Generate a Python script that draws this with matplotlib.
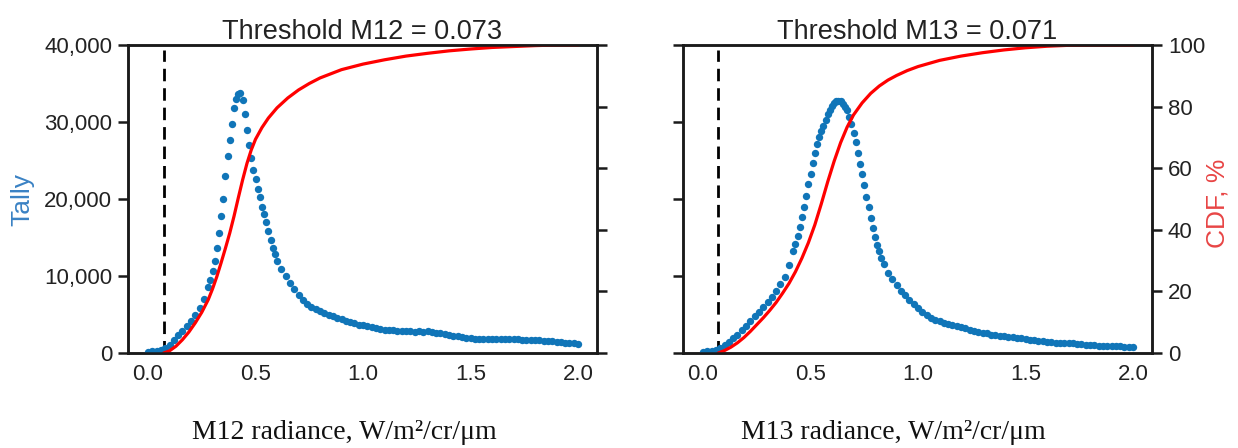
import numpy as np
import matplotlib
matplotlib.use('Agg')
import matplotlib.pyplot as plt
from matplotlib.ticker import FuncFormatter

plt.rcParams['font.family'] = ['Liberation Sans', 'DejaVu Sans']

# --- M12 panel: tally histogram
m12_x = [0.00, 0.02, 0.04, 0.06, 0.08, 0.10, 0.12, 0.14, 0.16, 0.18, 0.20, 0.22, 0.24, 0.26, 0.28,
         0.29, 0.30, 0.31, 0.32, 0.33, 0.34, 0.35, 0.36, 0.37, 0.38, 0.39, 0.40, 0.41, 0.42, 0.43,
         0.44, 0.45, 0.46, 0.47, 0.48, 0.49, 0.50, 0.51, 0.52, 0.53, 0.54, 0.55, 0.56, 0.57, 0.58,
         0.59, 0.60, 0.62, 0.64, 0.66, 0.68, 0.70, 0.72, 0.74, 0.76, 0.78, 0.80, 0.82, 0.84, 0.86,
         0.88, 0.90, 0.92, 0.94, 0.96, 0.98, 1.00, 1.02, 1.04, 1.06, 1.08, 1.10, 1.12, 1.14, 1.16,
         1.18, 1.20, 1.22, 1.24, 1.26, 1.28, 1.30, 1.32, 1.34, 1.36, 1.38, 1.40, 1.42, 1.44, 1.46,
         1.48, 1.50, 1.52, 1.54, 1.56, 1.58, 1.60, 1.62, 1.64, 1.66, 1.68, 1.70, 1.72, 1.74, 1.76,
         1.78, 1.80, 1.82, 1.84, 1.86, 1.88, 1.90, 1.92, 1.94, 1.96, 1.98, 2.00]
m12_tally = [100, 200, 250, 350, 600, 1100, 1700, 2400, 2900, 3500, 4200, 4900, 5900, 7000, 8600,
             9500, 10600, 12000, 13600, 15600, 17800, 20000, 23000, 25600, 27700, 29800, 31800, 33000, 33600, 33800,
             32800, 31000, 29000, 27000, 25300, 23800, 22600, 21300, 20200, 19000, 18000, 17000, 15800, 14700, 13700,
             12800, 12000, 10900, 10000, 9100, 8300, 7500, 6900, 6400, 6000, 5700, 5400, 5200, 5000, 4800,
             4600, 4400, 4200, 4000, 3900, 3700, 3600, 3450, 3350, 3250, 3150, 3050, 3000, 2950, 2900,
             2850, 2800, 2800, 2750, 2800, 2750, 2800, 2750, 2650, 2550, 2450, 2350, 2250, 2150, 2100,
             2000, 1950, 1850, 1800, 1800, 1800, 1800, 1800, 1800, 1780, 1780, 1770, 1760, 1750, 1750,
             1720, 1700, 1650, 1600, 1550, 1500, 1450, 1400, 1350, 1300, 1250, 1200]
m12_cdf_x = [0.073, 0.10, 0.13, 0.16, 0.19, 0.22, 0.25, 0.28, 0.30, 0.32, 0.34, 0.36, 0.38, 0.40,
             0.42, 0.44, 0.46, 0.48, 0.50, 0.53, 0.56, 0.60, 0.65, 0.70, 0.75, 0.80, 0.90, 1.00,
             1.10, 1.20, 1.30, 1.40, 1.50, 1.60, 1.70, 1.80, 1.90, 2.00]
m12_cdf = [0, 0.7, 2.2, 4.3, 6.8, 9.8, 13.2, 17.3, 20.8, 24.8, 29.3, 34.0, 38.9, 44.4,
           50.4, 56.2, 61.5, 65.9, 69.4, 73.2, 76.3, 79.6, 82.8, 85.4, 87.5, 89.3, 92.0, 93.8,
           95.2, 96.4, 97.3, 98.1, 98.7, 99.2, 99.5, 99.8, 100, 100]
m12_threshold = 0.073

# --- M13 panel
m13_x = [0.00, 0.02, 0.04, 0.06, 0.08, 0.10, 0.12, 0.14, 0.16, 0.18, 0.20, 0.22, 0.24, 0.26, 0.28,
         0.30, 0.32, 0.34, 0.36, 0.38, 0.40, 0.42, 0.43, 0.44, 0.45, 0.46, 0.47, 0.48, 0.49, 0.50,
         0.51, 0.52, 0.53, 0.54, 0.55, 0.56, 0.57, 0.58, 0.59, 0.60, 0.61, 0.62, 0.63, 0.64, 0.65,
         0.66, 0.67, 0.68, 0.69, 0.70, 0.71, 0.72, 0.73, 0.74, 0.75, 0.76, 0.77, 0.78, 0.79, 0.80,
         0.81, 0.82, 0.83, 0.84, 0.86, 0.88, 0.90, 0.92, 0.94, 0.96, 0.98, 1.00, 1.02, 1.04, 1.06,
         1.08, 1.10, 1.12, 1.14, 1.16, 1.18, 1.20, 1.22, 1.24, 1.26, 1.28, 1.30, 1.32, 1.34, 1.36,
         1.38, 1.40, 1.42, 1.44, 1.46, 1.48, 1.50, 1.52, 1.54, 1.56, 1.58, 1.60, 1.62, 1.64, 1.66,
         1.68, 1.70, 1.72, 1.74, 1.76, 1.78, 1.80, 1.82, 1.84, 1.86, 1.88, 1.90, 1.92, 1.94, 1.96,
         1.98, 2.00]
m13_tally = [100, 200, 250, 350, 600, 1000, 1450, 1900, 2400, 2950, 3550, 4150, 4750, 5350, 5950,
             6600, 7300, 8100, 8900, 9900, 11400, 13200, 14200, 15200, 16300, 17600, 19000, 20400, 21900, 23300,
             24700, 26000, 27100, 28000, 28800, 29500, 30200, 31000, 31600, 32100, 32500, 32700, 32700, 32700, 32400,
             32000, 31500, 30700, 29800, 28600, 27400, 26000, 24600, 23200, 21800, 20300, 18900, 17500, 16200, 15000,
             14000, 13200, 12400, 11600, 10400, 9600, 8800, 8100, 7500, 6900, 6300, 5800, 5300, 4900, 4600,
             4350, 4150, 3950, 3800, 3650, 3500, 3350, 3200, 3000, 2850, 2750, 2650, 2550, 2400, 2300,
             2250, 2150, 2100, 2050, 1950, 1900, 1850, 1750, 1650, 1600, 1500, 1450, 1400, 1350, 1300,
             1300, 1250, 1250, 1200, 1150, 1100, 1050, 1000, 950, 950, 900, 900, 850, 850, 820,
             820, 800]
m13_cdf_x = [0.071, 0.10, 0.13, 0.16, 0.19, 0.22, 0.25, 0.28, 0.31, 0.34, 0.37, 0.40, 0.43, 0.46,
             0.49, 0.52, 0.55, 0.58, 0.61, 0.64, 0.67, 0.70, 0.74, 0.78, 0.82, 0.86, 0.90, 0.95,
             1.00, 1.10, 1.20, 1.30, 1.40, 1.50, 1.60, 1.70, 1.80, 2.00]
m13_cdf = [0, 0.8, 1.9, 3.3, 5.0, 7.0, 9.2, 11.4, 13.8, 16.4, 19.4, 22.6, 26.4, 30.8,
           35.8, 41.6, 48.4, 55.6, 62.3, 68.3, 73.3, 77.3, 81.2, 84.3, 86.7, 88.6, 90.1, 91.7,
           93.0, 95.0, 96.4, 97.5, 98.4, 99.1, 99.6, 99.9, 100, 100]
m13_threshold = 0.071

panels = [
    ('M12', m12_x, m12_tally, m12_cdf_x, m12_cdf, m12_threshold),
    ('M13', m13_x, m13_tally, m13_cdf_x, m13_cdf, m13_threshold),
]

blue = '#1075b8'
spine_col = '#1a1a1a'

fig = plt.figure(figsize=(12.38, 4.48), dpi=100)
lefts = [128 / 1238, 683 / 1238]
for i, (band, x, tally, cx, cdf, thr) in enumerate(panels):
    ax = fig.add_axes([lefts[i], 95 / 448, 469 / 1238, 308 / 448])
    ax2 = ax.twinx()

    ax.plot(x, tally, 'o', color=blue, markersize=5.3, markeredgewidth=0, zorder=3)
    ax.plot([thr, thr], [0, 39300], color='black', lw=2, dashes=(4.5, 2.5), zorder=2)
    ax2.plot(cx, cdf, color='#ff0000', lw=2.3, solid_capstyle='round')

    ax.set_xlim(-0.093, 2.088)
    ax.set_ylim(0, 40000)
    ax2.set_ylim(0, 100)
    ax.set_xticks([0.0, 0.5, 1.0, 1.5, 2.0])
    ax.set_yticks([0, 10000, 20000, 30000, 40000])
    ax2.set_yticks([0, 20, 40, 60, 80, 100])
    ax.yaxis.set_major_formatter(FuncFormatter(lambda v, p: f'{int(v):,}'))

    for a in (ax, ax2):
        for s in a.spines.values():
            s.set_linewidth(1.8)
            s.set_color(spine_col)
        a.tick_params(axis='y', direction='out', length=7.5, width=1.8, color=spine_col,
                      labelsize=16, pad=4, labelcolor='#222222')
    ax.tick_params(axis='x', length=0, labelsize=16, pad=8, labelcolor='#222222')

    if i == 0:
        ax2.tick_params(axis='y', labelright=False)
    else:
        ax.tick_params(axis='y', labelleft=False)

    ax.set_title(f'Threshold {band} = {thr:.3f}', fontsize=19.5, pad=4, color='#222222')

fig.text(22 / 1238, 1 - 200 / 448, 'Tally', rotation=90, ha='center', va='center',
         fontsize=19, color='#3a82c4')
fig.text(1218 / 1238, 1 - 203 / 448, 'CDF, %', rotation=90, ha='center', va='center',
         fontsize=19, color='#e84545')
fig.text(344 / 1238, 1 - 432 / 448, 'M12 radiance, W/m²/cr/μm', ha='center', va='center',
         fontsize=20, family=['Liberation Serif', 'DejaVu Serif'], color='#111111')
fig.text(893 / 1238, 1 - 432 / 448, 'M13 radiance, W/m²/cr/μm', ha='center', va='center',
         fontsize=20, family=['Liberation Serif', 'DejaVu Serif'], color='#111111')

fig.savefig('out.png', dpi=100)
